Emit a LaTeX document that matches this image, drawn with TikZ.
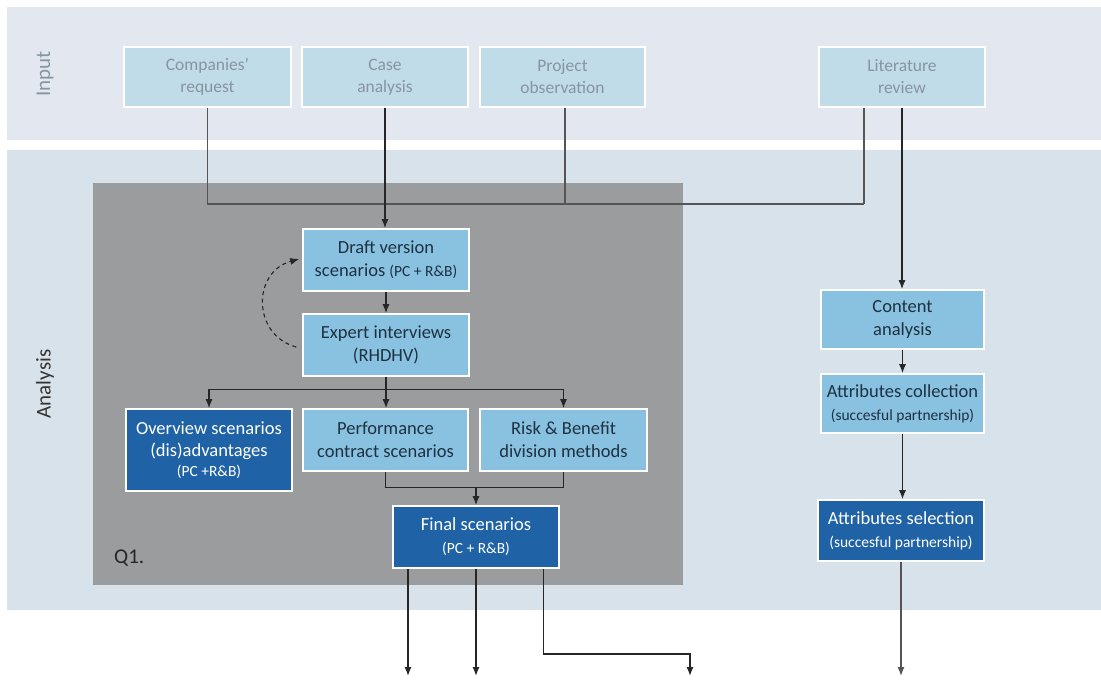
\documentclass[tikz,border=0pt]{standalone}
\usepackage{fontspec}
\setmainfont{Carlito}
\usetikzlibrary{arrows.meta,calc}
\definecolor{bandIn}{HTML}{E3E8F0}
\definecolor{bandAn}{HTML}{D7E2EB}
\definecolor{inFill}{HTML}{C0DCE9}
\definecolor{inText}{HTML}{8695A0}
\definecolor{qGray}{HTML}{9B9C9E}
\definecolor{lightB}{HTML}{89C1E1}
\definecolor{darkB}{HTML}{1F62A6}
\definecolor{boxText}{HTML}{1E3140}
\definecolor{lineC}{HTML}{262626}
\definecolor{lineIn}{HTML}{555555}
\tikzset{
  every node/.style={font=\fontsize{18.5}{23}\selectfont, align=center, inner sep=0pt},
  inbox/.style={draw=white, line width=1.6pt, fill=inFill, text=inText, minimum height=60pt, minimum width=166pt, font=\fontsize{17.5}{22}\selectfont},
  lbox/.style={draw=white, line width=1.6pt, fill=lightB, text=boxText, minimum height=62pt, minimum width=166pt},
  dbox/.style={draw=white, line width=1.6pt, fill=darkB, text=white, minimum height=62pt, minimum width=166pt},
  conn/.style={draw=lineC, line width=1.3pt},
  inconn/.style={draw=lineIn, line width=1.3pt},
  arr/.style={-{Latex[length=9pt,width=7pt]}},
  sidelabel/.style={rotate=90, font=\fontsize{21}{25}\selectfont},
}
\begin{document}
\begin{tikzpicture}[x=1pt,y=-1pt]
\useasboundingbox (0,0) rectangle (1101,682);
\fill[white] (0,0) rectangle (1101,682);
% bands
\fill[bandIn] (7,7) rectangle (1101,140);
\fill[bandAn] (7,150) rectangle (1101,610);
\fill[qGray] (93,183) rectangle (683,585);
% side labels
\node[sidelabel, text=inText] (lin) at (45,74) {Input};
\node[sidelabel, text=black!80] (lan) at (45,384) {Analysis};
\node[anchor=west, font=\fontsize{21}{25}\selectfont, text=black!85] (q1) at (114,558) {Q1.};
% input boxes
\node[inbox, minimum width=167pt] (comp) at (207.5,77) {Companies’\\request};
\node[inbox] (case) at (385,77) {Case\\analysis};
\node[inbox, minimum width=165pt] (proj) at (562.5,77) {Project\\observation};
\node[inbox] (lit) at (902,77) {Literature\\review};
% Q1 boxes
\node[lbox] (draft) at (386,260) {Draft version\\scenarios {\fontsize{15.5}{19}\selectfont(PC + R\&B)}};
\node[lbox] (expert) at (386,345) {Expert interviews\\(RHDHV)};
\node[dbox, minimum height=82pt] (overview) at (209,450) {Overview scenarios\\[-1pt](dis)advantages\\[-3pt]{\fontsize{15.5}{19}\selectfont(PC +R\&B)}};
\node[lbox, minimum width=165pt] (perf) at (385.5,440) {Performance\\contract scenarios};
\node[lbox, minimum width=167pt] (risk) at (563.5,440) {Risk \& Benefit\\division methods};
\node[dbox] (final) at (476,537) {Final scenarios\\{\fontsize{15.5}{19}\selectfont(PC + R\&B)}};
% right column
\node[lbox, minimum width=163pt, minimum height=59pt] (content) at (902.5,319.5) {Content\\analysis};
\node[lbox, minimum width=163pt, minimum height=59pt] (collect) at (902.5,403.5) {Attributes collection\\{\fontsize{15.5}{19}\selectfont(succesful partnership)}};
\node[dbox, minimum height=61pt] (select) at (901,530.5) {Attributes selection\\{\fontsize{15.5}{19}\selectfont(succesful partnership)}};
% coordinates
\coordinate (j) at (864,204);
\coordinate (out1) at (408,676);
\coordinate (out2) at (476,676);
\coordinate (out3) at (690,676);
\coordinate (out4) at (901,676);
% input connectors
\draw[inconn] (comp.south) -- (comp.south |- j) -- (j);
\draw[inconn] ([xshift=2.5pt]proj.south) -- ([xshift=2.5pt]proj.south |- j);
\draw[inconn] ([xshift=-38pt]lit.south) -- (j);
\draw[conn, arr] (case.south) -- (case.south |- draft.north);
\draw[conn, arr] (lit.south) -- (lit.south |- content.north);
% Q1 flow
\draw[conn, arr] (draft.south) -- (expert.north);
\draw[conn, dashed, dash pattern=on 4pt off 3.5pt, line width=1.1pt, arr] ([xshift=-6pt,yshift=-2pt]expert.west) .. controls (252,335) and (252,272) .. ([xshift=-3pt,yshift=1pt]draft.west);
\draw[conn, arr] (expert.south) -- ++(0,13) -| (overview.north);
\draw[conn, arr] (expert.south) -- ++(0,13) -| (risk.north);
\draw[conn, arr] (expert.south) -- (expert.south |- perf.north);
\draw[conn] (perf.south) -- ++(0,16) -| (risk.south);
\draw[conn, arr] (final.north |- 0,487) -- (final.north);
% outputs
\draw[conn, arr] ([xshift=-68pt]final.south) -- (out1);
\draw[conn, arr] (final.south) -- (out2);
\draw[conn, arr] ([xshift=67.5pt]final.south) |- (643,654) -| (out3);
% right column flow
\draw[conn, arr] (content.south) -- (content.south |- collect.north);
\draw[conn, arr] (collect.south) -- (collect.south |- select.north);
\draw[inconn, arr] (select.south) -- (out4);
\end{tikzpicture}
\end{document}
